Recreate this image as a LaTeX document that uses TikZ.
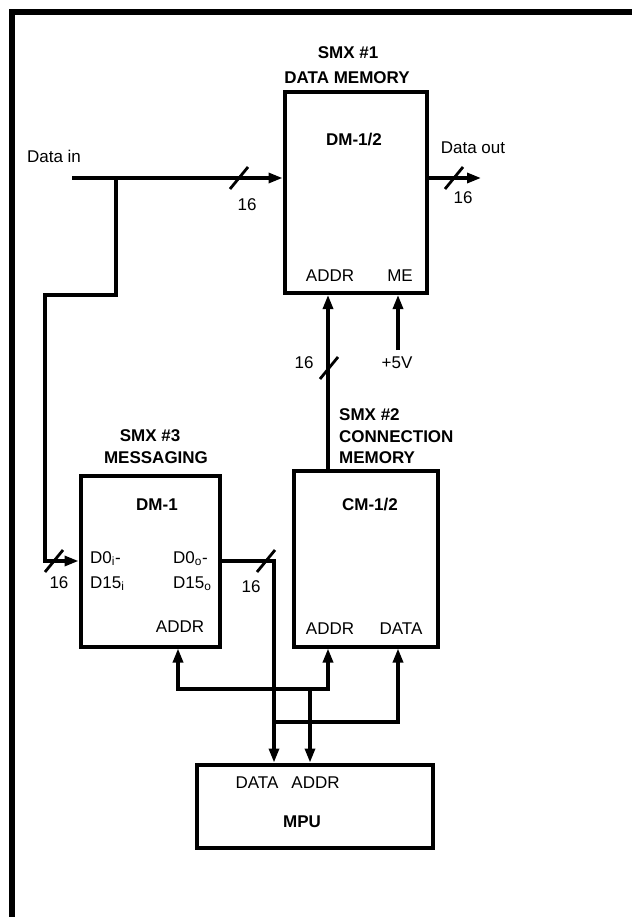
\documentclass[tikz,border=0pt]{standalone}
\usepackage{fontspec}
\setmainfont{Liberation Sans}
\usetikzlibrary{arrows.meta}
\begin{document}
\begin{tikzpicture}[x=1pt,y=-1pt,
  box/.style={draw, line width=4pt, inner sep=0pt},
  wire/.style={line width=3.2pt},
  arr/.style={wire, -{Triangle[length=14pt,width=10pt]}},
  barr/.style={wire, {Triangle[length=14pt,width=10pt]}-{Triangle[length=14pt,width=10pt]}},
  lbl/.style={inner sep=0pt, anchor=base, font=\fontsize{17}{20}\selectfont},
  llbl/.style={lbl, anchor=base west},
  blbl/.style={lbl, font=\fontsize{17}{20}\selectfont\bfseries},
  bllbl/.style={llbl, font=\fontsize{17}{20}\selectfont\bfseries},
  slashmark/.pic={\draw[line width=2.8pt] (-9,11) -- (9,-11);}
]
\useasboundingbox (0,0) rectangle (631,917);
% frame
\draw[line width=6pt] (12,940) -- (12,12) -- (650,12);

% boxes
\node[box, minimum width=142pt, minimum height=200.5pt] (dm) at (355.5,192.75) {};
\node[box, minimum width=144pt, minimum height=176pt] (cm) at (365.5,558.5) {};
\node[box, minimum width=139pt, minimum height=171pt] (msg) at (150,561) {};
\node[box, minimum width=236pt, minimum height=83pt] (mpu) at (314.5,806) {};

% coordinates
\coordinate (din) at (72,178);
\coordinate (jn) at (116,178);
\coordinate (b1) at (116,295);
\coordinate (b2) at (45,295);
\coordinate (b3) at (45,561);
\coordinate (dout) at (481,178);
\coordinate (p5) at (398,350);
\coordinate (mo) at (274,561);
\coordinate (a1) at (178,689);
\coordinate (a2) at (328,689);
\coordinate (a3) at (310,689);
\coordinate (d1) at (274,722);
\coordinate (d2) at (398,722);

% connectors
\draw[arr] (din) -- (din -| dm.west);
\draw[arr] (jn) -- (b1) -- (b2) -- (b3) -- (b3 -| msg.west);
\draw[arr] (dm.east |- dout) -- (dout);
\draw[arr] (a2 |- cm.north) -- (a2 |- dm.south);
\draw[arr] (p5) -- (p5 |- dm.south);
\draw[arr] (msg.east |- mo) -- (mo) -- (mo |- mpu.north);
\draw[barr] (a1 |- msg.south) -- (a1) -- (a2) -- (a2 |- cm.south);
\draw[arr] (a3) -- (a3 |- mpu.north);
\draw[arr] (d1) -- (d2) -- (d2 |- cm.south);

% bus width marks
\pic at (239,178) {slashmark};
\pic at (454,178) {slashmark};
\pic at (329,368) {slashmark};
\pic at (54,561) {slashmark};
\pic at (266,561) {slashmark};

% labels
\node[blbl] (t1a) at (348,59) {SMX \#1};
\node[blbl] (t1b) at (347,84) {DATA MEMORY};
\node[blbl] (dmn) at (354,146) {DM-1/2};
\node[lbl] (dmaddr) at (330,281) {ADDR};
\node[lbl] (dmme) at (400,281) {ME};
\node[lbl] (ldin) at (54,163) {Data in};
\node[lbl] (n1) at (247,211) {16};
\node[lbl] (ldout) at (473,154) {Data out};
\node[lbl] (n2) at (463,204) {16};
\node[lbl] (n3) at (304,368) {16};
\node[lbl] (p5v) at (397,368) {+5V};

\node[bllbl] (t2a) at (339,420) {SMX \#2};
\node[bllbl] (t2b) at (339,442) {CONNECTION};
\node[bllbl] (t2c) at (339,463) {MEMORY};
\node[blbl] (t3a) at (150,441) {SMX \#3};
\node[blbl] (t3b) at (156,463) {MESSAGING};

\node[blbl] (dm1) at (157,510) {DM-1};
\node[blbl] (cmn) at (370,510) {CM-1/2};
\node[llbl] (di0) at (90,563) {D0\textsubscript{i}-};
\node[llbl] (di15) at (90,588) {D15\textsubscript{i}};
\node[llbl] (do0) at (173,563) {D0\textsubscript{o}-};
\node[llbl] (do15) at (173,588) {D15\textsubscript{o}};
\node[lbl] (n4) at (59,588) {16};
\node[lbl] (n5) at (251,592) {16};
\node[lbl] (maddr) at (180,632) {ADDR};
\node[lbl] (caddr) at (330,634) {ADDR};
\node[lbl] (cdata) at (401,634) {DATA};
\node[lbl] (pdata) at (257,788) {DATA};
\node[lbl] (paddr) at (315.5,788) {ADDR};
\node[blbl] (mpun) at (302,827) {MPU};
\end{tikzpicture}
\end{document}
